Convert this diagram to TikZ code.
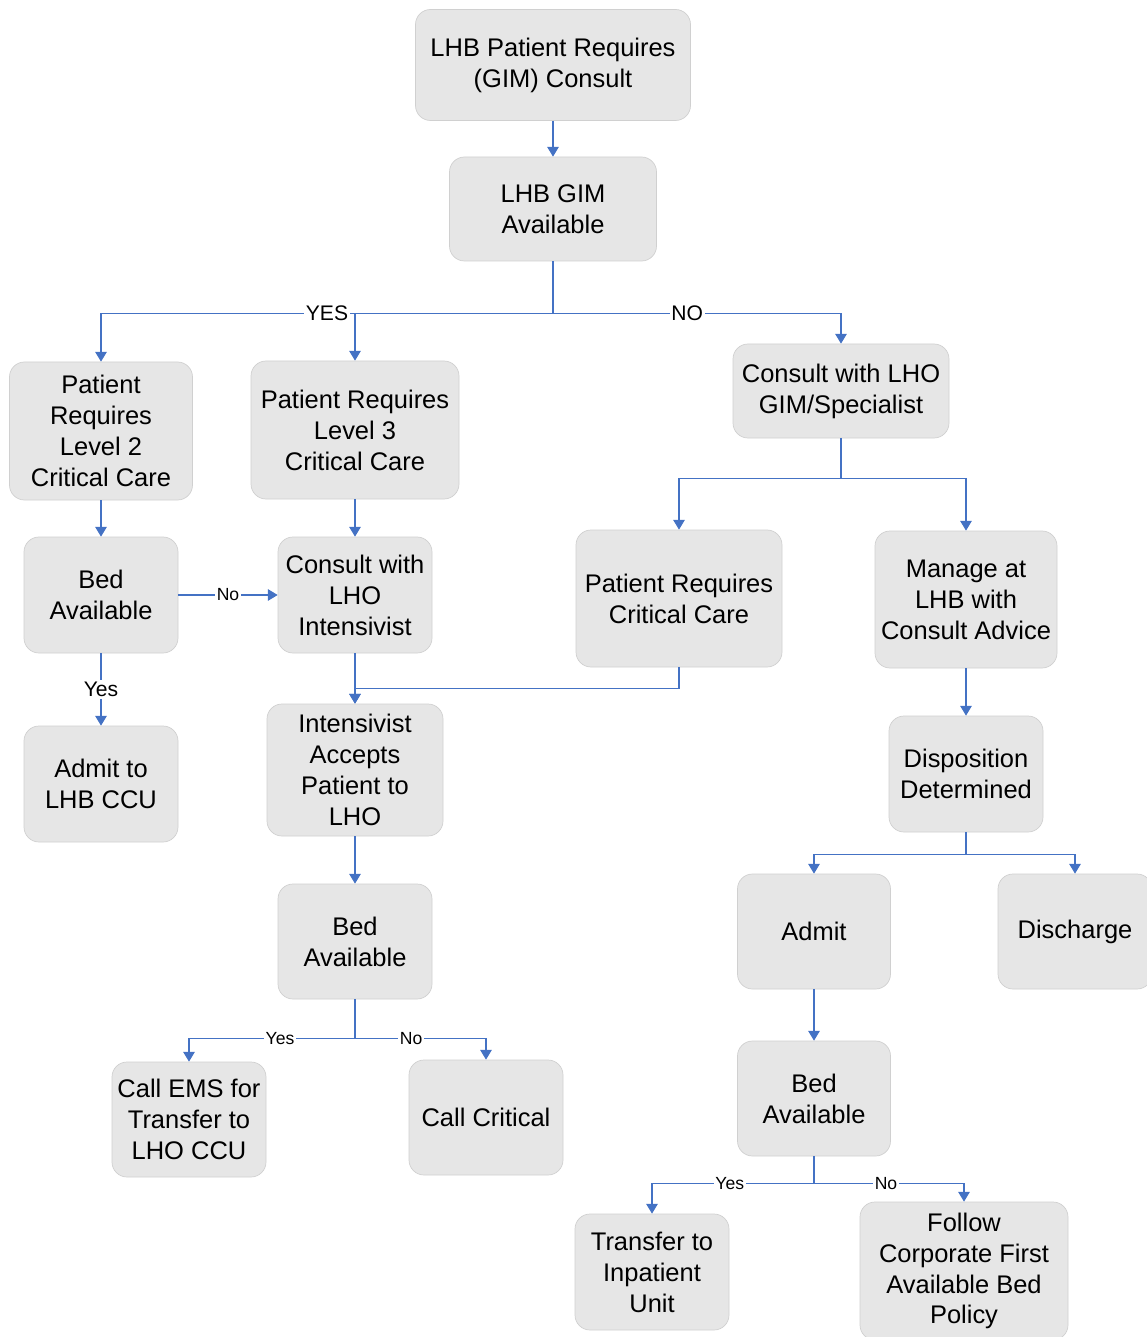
\documentclass[tikz,border=0pt]{standalone}
\usepackage{fontspec}
\setmainfont{Liberation Sans}
\usetikzlibrary{arrows.meta}
\definecolor{boxfill}{HTML}{E6E6E6}
\definecolor{boxline}{HTML}{D0D0D0}
\definecolor{flow}{HTML}{4472C4}
\begin{document}
\begin{tikzpicture}[
  box/.style={draw=boxline,fill=boxfill,rounded corners=0.3cm,align=center,inner sep=2pt,
    font=\fontsize{14.5}{17.6}\selectfont,minimum width=3.08cm,minimum height=2.32cm},
  conn/.style={flow,line width=0.6pt,-{Triangle[width=6.5pt,length=5.5pt]}},
  lbl/.style={fill=white,inner sep=1pt,text=black,font=\fontsize{12}{14}\selectfont},
  slbl/.style={fill=white,inner sep=1pt,text=black,font=\fontsize{10}{12}\selectfont}]
\useasboundingbox (0,0) rectangle (22.92,-26.74);
% LHB side
\node[box,minimum width=5.5cm,minimum height=2.22cm] (top) at (11.06,-1.30) {LHB Patient Requires\\(GIM) Consult};
\node[box,minimum width=4.14cm,minimum height=2.08cm] (gim) at (11.06,-4.18) {LHB GIM\\Available};
\node[box,minimum width=3.66cm,minimum height=2.76cm] (lvltwo) at (2.02,-8.62) {Patient\\Requires\\Level 2\\Critical Care};
\node[box,minimum width=4.16cm,minimum height=2.76cm] (lvlthree) at (7.10,-8.60) {Patient Requires\\Level 3\\Critical Care};
\node[box] (bedA) at (2.02,-11.90) {Bed\\Available};
\node[box] (intens) at (7.10,-11.90) {Consult with\\LHO\\Intensivist};
\node[box] (ccu) at (2.02,-15.68) {Admit to\\LHB CCU};
\node[box,minimum width=3.52cm,minimum height=2.64cm] (accept) at (7.10,-15.40) {Intensivist\\Accepts\\Patient to\\LHO};
\node[box,minimum height=2.30cm] (bedB) at (7.10,-18.83) {Bed\\Available};
\node[box,minimum height=2.30cm] (ems) at (3.78,-22.39) {Call EMS for\\Transfer to\\LHO CCU};
\node[box,minimum height=2.30cm] (critcall) at (9.72,-22.35) {Call Critical};
% LHO side
\node[box,minimum width=4.32cm,minimum height=1.88cm] (lhogim) at (16.82,-7.82) {Consult with LHO\\GIM/Specialist};
\node[box,minimum width=4.12cm,minimum height=2.74cm] (critcare) at (13.58,-11.97) {Patient Requires\\Critical Care};
\node[box,minimum width=3.64cm,minimum height=2.74cm] (manage) at (19.32,-11.99) {Manage at\\LHB with\\Consult Advice};
\node[box] (dispo) at (19.32,-15.48) {Disposition\\Determined};
\node[box,minimum width=3.06cm,minimum height=2.30cm] (admit) at (16.28,-18.63) {Admit};
\node[box,minimum height=2.30cm] (discharge) at (21.50,-18.63) {Discharge};
\node[box,minimum width=3.06cm,minimum height=2.30cm] (bedC) at (16.28,-21.97) {Bed\\Available};
\node[box] (inpat) at (13.04,-25.44) {Transfer to\\Inpatient\\Unit};
\node[box,minimum width=4.16cm,minimum height=2.76cm] (policy) at (19.28,-25.42) {Follow\\Corporate First\\Available Bed\\Policy};
% connectors
\draw[conn] (top) -- (gim);
\draw[conn] (gim.south) -- ++(0,-1.04) -| node[lbl,pos=0.25]{YES} (lvltwo.north);
\draw[conn] (gim.south) -- ++(0,-1.04) -| (lvlthree.north);
\draw[conn] (gim.south) -- ++(0,-1.04) -| node[lbl,pos=0.233]{NO} (lhogim.north);
\draw[conn] (lvltwo) -- (bedA);
\draw[conn] (lvlthree) -- (intens);
\draw[conn] (bedA) -- node[slbl]{No} (intens);
\draw[conn] (bedA) -- node[lbl]{Yes} (ccu);
\draw[conn] (intens) -- (accept);
\draw[conn] (critcare.south) -- ++(0,-0.42) -| (accept.north);
\draw[conn] (accept) -- (bedB);
\draw[conn] (bedB.south) -- ++(0,-0.78) -| node[slbl,pos=0.226]{Yes} (ems.north);
\draw[conn] (bedB.south) -- ++(0,-0.78) -| node[slbl,pos=0.214]{No} (critcall.north);
\draw[conn] (lhogim.south) -- ++(0,-0.8) -| (critcare.north);
\draw[conn] (lhogim.south) -- ++(0,-0.8) -| (manage.north);
\draw[conn] (manage) -- (dispo);
\draw[conn] (dispo.south) -- ++(0,-0.44) -| (admit.north);
\draw[conn] (dispo.south) -- ++(0,-0.44) -| (discharge.north);
\draw[conn] (admit) -- (bedC);
\draw[conn] (bedC.south) -- ++(0,-0.54) -| node[slbl,pos=0.26]{Yes} (inpat.north);
\draw[conn] (bedC.south) -- ++(0,-0.54) -| node[slbl,pos=0.24]{No} (policy.north);
\end{tikzpicture}
\end{document}
